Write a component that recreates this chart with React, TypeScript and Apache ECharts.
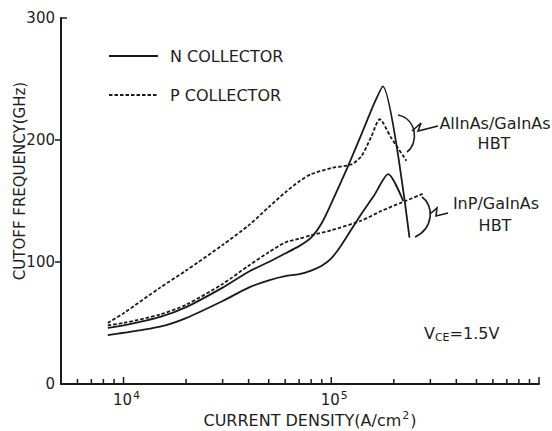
import React, { useEffect, useRef } from 'react';
import * as echarts from 'echarts';

// AlInAs/GaInAs HBT, N collector (solid)
const alinasN_J = [8400, 10000, 15000, 20000, 30000, 40000, 50000, 60000, 70000, 80000, 90000, 100000, 120000, 140000, 160000, 177000, 238000];
const alinasN_f = [46, 48, 55, 63, 79, 92, 100, 107, 113, 120, 132, 148, 178, 205, 229, 244, 120];

// AlInAs/GaInAs HBT, P collector (dashed)
const alinasP_J = [8400, 10000, 15000, 20000, 30000, 40000, 50000, 60000, 70000, 80000, 100000, 125000, 140000, 156000, 171000, 194000, 230000];
const alinasP_f = [50, 58, 79, 93, 114, 130, 145, 157, 166, 172, 177, 180, 187, 203, 217, 202, 183];

// InP/GaInAs HBT, N collector (solid)
const inpN_J = [8400, 10000, 15000, 20000, 30000, 40000, 50000, 60000, 70000, 80000, 90000, 100000, 112000, 139000, 160000, 188000, 222000];
const inpN_f = [40, 42, 47, 54, 68, 79, 85, 88.5, 90, 93, 97, 103, 114, 139, 154, 172, 150];

// InP/GaInAs HBT, P collector (dashed)
const inpP_J = [8400, 10000, 15000, 20000, 30000, 40000, 50000, 60000, 70000, 80000, 100000, 140000, 175000, 220000, 277000];
const inpP_f = [48, 50, 57, 65, 82, 97, 108, 116, 119, 122, 126, 134, 142, 149, 156];

const yTickValues = [100, 200, 300];
const xMinorTicks = [6000, 7000, 8000, 9000, 20000, 30000, 40000, 50000, 60000, 70000, 80000, 90000, 200000, 300000, 400000, 500000, 600000, 700000, 800000, 900000];
const xMajorTicks = [10000, 100000, 1000000];
const xLabelValues = [10000, 100000];
const xLabelBase = '10';
const xLabelExponents = ['4', '5'];

const INK = '#1a1a1a';
const TXT = '#1e1e1e';
const FONT = 'DejaVu Sans';

const zip = (xs: number[], ys: number[]) => xs.map((x, i) => [x, ys[i]]);

export default function App() {
  const ref = useRef<HTMLDivElement>(null);
  useEffect(() => {
    if (!ref.current) return;
    const chart = echarts.init(ref.current, undefined, { renderer: 'svg' });
    const lineBase = {
      type: 'line' as const,
      symbol: 'none',
      showSymbol: false,
      smooth: 0.25,
      z: 3,
      itemStyle: { color: INK },
    };
    const solid = { color: INK, width: 1.8, type: 'solid' as const };
    const dashed = { color: INK, width: 1.8, type: [3.5, 2] as any };
    chart.setOption({
      animation: false,
      backgroundColor: '#ffffff',
      grid: { left: 61, right: 13, top: 18, bottom: 47 },
      legend: {
        data: ['N COLLECTOR', 'P COLLECTOR'],
        orient: 'vertical',
        left: 108,
        top: 48,
        padding: 0,
        itemWidth: 49,
        itemHeight: 14,
        itemGap: 23,
        itemStyle: { color: 'rgba(0,0,0,0)', borderWidth: 0, opacity: 0 },
        textStyle: { fontFamily: FONT, fontSize: 16, color: TXT, padding: [0, 0, 0, 7] },
      },
      xAxis: {
        type: 'log',
        logBase: 10,
        min: 5000,
        max: 1000000,
        axisLine: { show: true, lineStyle: { color: INK, width: 2 } },
        axisTick: { show: false },
        axisLabel: { show: false },
        splitLine: { show: false },
        minorTick: { show: false },
      },
      yAxis: {
        type: 'value',
        min: 0,
        max: 300,
        interval: 100,
        axisLine: { show: true, lineStyle: { color: INK, width: 2 } },
        axisTick: { show: false },
        axisLabel: { fontFamily: FONT, fontSize: 15, color: TXT, margin: 6 },
        splitLine: { show: false },
      },
      series: [
        { ...lineBase, name: 'N COLLECTOR', data: zip(alinasN_J, alinasN_f), lineStyle: solid },
        { ...lineBase, name: 'P COLLECTOR', data: zip(alinasP_J, alinasP_f), lineStyle: dashed },
        { ...lineBase, name: 'N COLLECTOR', data: zip(inpN_J, inpN_f), lineStyle: solid },
        { ...lineBase, name: 'P COLLECTOR', data: zip(inpP_J, inpP_f), lineStyle: dashed },
        {
          type: 'custom',
          name: 'xticks',
          silent: true,
          data: [...xMinorTicks.map((v) => [v, 0, 5]), ...xMajorTicks.map((v) => [v, 0, 7])],
          renderItem: (params: any, api: any) => {
            const p = api.coord([api.value(0), 0]);
            const len = api.value(2);
            return {
              type: 'line',
              shape: { x1: p[0], y1: p[1], x2: p[0], y2: p[1] - len },
              style: { stroke: INK, lineWidth: 1.5 },
            };
          },
        },
        {
          type: 'custom',
          name: 'yticks',
          silent: true,
          data: yTickValues.map((v) => [5000, v]),
          renderItem: (params: any, api: any) => {
            const v = api.value(1);
            const p = api.coord([5000, v]);
            const dir = v >= 300 ? 1 : -1;
            return {
              type: 'line',
              shape: { x1: p[0], y1: p[1], x2: p[0] + dir * 6, y2: p[1] },
              style: { stroke: INK, lineWidth: 1.5 },
            };
          },
        },
        {
          type: 'custom',
          name: 'xlabels',
          silent: true,
          data: xLabelValues.map((v, i) => [v, 0, i]),
          renderItem: (params: any, api: any) => {
            const p = api.coord([api.value(0), 0]);
            return {
              type: 'text',
              x: p[0] + 3,
              y: p[1] + 16,
              style: {
                text: `{a|${xLabelBase}}{s|${xLabelExponents[api.value(2)]}}`,
                fill: TXT,
                align: 'center',
                verticalAlign: 'middle',
                rich: {
                  a: { fontFamily: FONT, fontSize: 15, lineHeight: 17, fill: TXT },
                  s: { fontFamily: FONT, fontSize: 11, lineHeight: 11, padding: [0, 0, 9, 1], fill: TXT },
                },
              },
            };
          },
        },
      ],
      graphic: [
        {
          type: 'text',
          x: 20,
          y: 181,
          rotation: Math.PI / 2,
          style: { text: 'CUTOFF FREQUENCY(GHz)', fill: TXT, font: `15px "${FONT}"`, align: 'center', verticalAlign: 'middle' },
        },
        {
          type: 'text',
          x: 310,
          y: 420,
          style: {
            text: '{a|CURRENT DENSITY(A/cm}{s|2}{a|)}',
            fill: TXT,
            align: 'center',
            verticalAlign: 'middle',
            rich: {
              a: { fontFamily: FONT, fontSize: 16, lineHeight: 18, fill: TXT },
              s: { fontFamily: FONT, fontSize: 11, lineHeight: 11, padding: [0, 1, 9, 1], fill: TXT },
            },
          },
        },
        {
          type: 'text',
          x: 495,
          y: 123,
          style: { text: 'AlInAs/GaInAs', fill: TXT, font: `16px "${FONT}"`, align: 'center', verticalAlign: 'middle' },
        },
        {
          type: 'text',
          x: 494,
          y: 143,
          style: { text: 'HBT', fill: TXT, font: `16px "${FONT}"`, align: 'center', verticalAlign: 'middle' },
        },
        {
          type: 'text',
          x: 496,
          y: 203,
          style: { text: 'InP/GaInAs', fill: TXT, font: `16px "${FONT}"`, align: 'center', verticalAlign: 'middle' },
        },
        {
          type: 'text',
          x: 495,
          y: 225,
          style: { text: 'HBT', fill: TXT, font: `16px "${FONT}"`, align: 'center', verticalAlign: 'middle' },
        },
        {
          type: 'bezierCurve',
          shape: { x1: 398, y1: 115, cpx1: 417, cpy1: 119, cpx2: 419, cpy2: 143, x2: 407, y2: 152 },
          style: { stroke: INK, lineWidth: 1.6, fill: 'none' },
        },
        {
          type: 'polyline',
          shape: { points: [[412, 131], [421, 123], [418, 131], [438, 126]] },
          style: { stroke: INK, lineWidth: 1.6, fill: 'none' },
        },
        {
          type: 'bezierCurve',
          shape: { x1: 422, y1: 197, cpx1: 434, cpy1: 205, cpx2: 434, cpy2: 228, x2: 415, y2: 237 },
          style: { stroke: INK, lineWidth: 1.6, fill: 'none' },
        },
        {
          type: 'polyline',
          shape: { points: [[430, 214], [437, 208], [436, 216], [448, 213]] },
          style: { stroke: INK, lineWidth: 1.6, fill: 'none' },
        },
        {
          type: 'text',
          x: 424,
          y: 333,
          style: {
            text: '{a|V}{b|CE}{a|=1.5V}',
            fill: TXT,
            verticalAlign: 'middle',
            rich: {
              a: { fontFamily: FONT, fontSize: 16, lineHeight: 18, fill: TXT },
              b: { fontFamily: FONT, fontSize: 11, lineHeight: 11, padding: [8, 0, 0, 0], fill: TXT },
            },
          },
        },
      ],
    });
    return () => chart.dispose();
  }, []);
  return (
    <div
      ref={ref}
      style={{ position: 'fixed', left: 0, top: 0, width: 552, height: 431, background: '#fff' }}
    />
  );
}
